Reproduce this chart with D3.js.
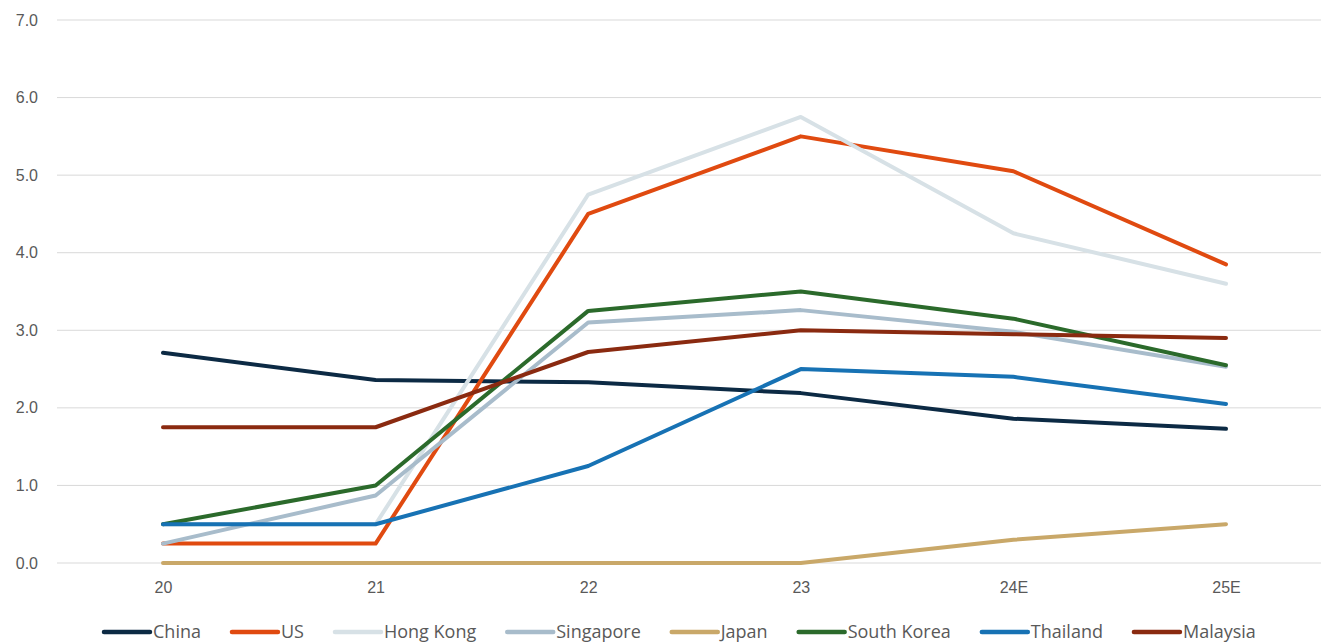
<!DOCTYPE html>
<html>
<head>
<meta charset="utf-8">
<script src="https://cdn.jsdelivr.net/npm/d3@7"></script>
<style>
  body { margin: 0; background: #fff; }
  svg { display: block; }
</style>
</head>
<body>
<svg id="chart" width="1321" height="642"></svg>
<script>
// categories and series values (policy rate, %)
const years = ["20", "21", "22", "23", "24E", "25E"];
const yTicks = [0, 1, 2, 3, 4, 5, 6, 7];

const china      = [2.71, 2.36, 2.33, 2.19, 1.86, 1.73];
const us         = [0.25, 0.25, 4.50, 5.50, 5.05, 3.85];
const hongKong   = [0.50, 0.50, 4.75, 5.75, 4.25, 3.60];
const singapore  = [0.25, 0.87, 3.10, 3.26, 2.98, 2.53];
const japan      = [0.00, 0.00, 0.00, 0.00, 0.30, 0.50];
const southKorea = [0.50, 1.00, 3.25, 3.50, 3.15, 2.55];
const thailand   = [0.50, 0.50, 1.25, 2.50, 2.40, 2.05];
const malaysia   = [1.75, 1.75, 2.72, 3.00, 2.95, 2.90];

const seriesNames = ["China", "US", "Hong Kong", "Singapore", "Japan", "South Korea", "Thailand", "Malaysia"];
const seriesColors = ["#0c2a44", "#e04a10", "#d7e1e6", "#a8bccb", "#c9a869", "#2b6a2b", "#1772b4", "#8a2a10"];

const series = [china, us, hongKong, singapore, japan, southKorea, thailand, malaysia]
    .map((values, i) => ({ name: seriesNames[i], color: seriesColors[i], values }));

const svg = d3.select("#chart");
const font = "'Liberation Sans', Arial, sans-serif";

const x = d3.scalePoint()
    .domain(years)
    .range([163, 1226]);

const y = d3.scaleLinear()
    .domain([0, 7])
    .range([563, 20]);

// gridlines
svg.append("g")
    .selectAll("line")
    .data(yTicks)
    .enter().append("line")
    .attr("x1", 57)
    .attr("x2", 1321)
    .attr("y1", d => y(d))
    .attr("y2", d => y(d))
    .attr("stroke", "#d9d9d9")
    .attr("stroke-width", 1);

// y axis labels
const yAxis = svg.append("g")
    .attr("transform", "translate(38,0)")
    .call(d3.axisLeft(y).tickValues(yTicks).tickFormat(d3.format(".1f")).tickSize(0).tickPadding(0));
yAxis.select(".domain").remove();
yAxis.selectAll("text")
    .attr("fill", "#595959")
    .style("font-family", font)
    .style("font-size", "16px");

// x axis labels
const xAxis = svg.append("g")
    .attr("transform", "translate(0,582)")
    .call(d3.axisBottom(x).tickSize(0).tickPadding(0));
xAxis.select(".domain").remove();
xAxis.selectAll("text")
    .attr("fill", "#595959")
    .style("font-family", font)
    .style("font-size", "16px");

const line = d3.line()
    .x((d, i) => x(years[i]))
    .y(d => y(d));

svg.append("g")
    .selectAll("path")
    .data(series)
    .enter().append("path")
    .attr("d", d => line(d.values))
    .attr("fill", "none")
    .attr("stroke", d => d.color)
    .attr("stroke-width", 4)
    .attr("stroke-linejoin", "round")
    .attr("stroke-linecap", "round");

// legend
const legend = svg.append("g").attr("transform", "translate(0,632)");
let lx = 104;
series.forEach(s => {
    const g = legend.append("g").attr("transform", `translate(${lx},0)`);
    g.append("line")
        .attr("x1", 0).attr("x2", 46)
        .attr("y1", 0).attr("y2", 0)
        .attr("stroke", s.color)
        .attr("stroke-width", 4.5)
        .attr("stroke-linecap", "round");
    const t = g.append("text")
        .attr("x", 49)
        .attr("y", 6)
        .attr("fill", "#595959")
        .style("font-family", "'Open Sans', 'Liberation Sans', sans-serif")
        .style("font-size", "18px")
        .text(s.name);
    lx += 49 + t.node().getComputedTextLength() + 31;
});
</script>
</body>
</html>
